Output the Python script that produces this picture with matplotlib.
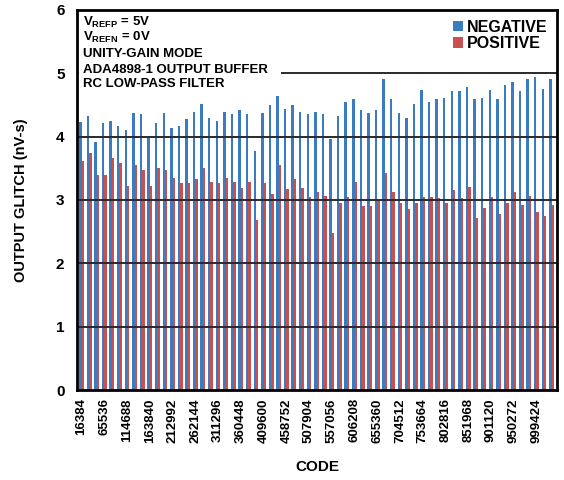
import matplotlib
matplotlib.use("Agg")
import matplotlib.pyplot as plt
import numpy as np
from matplotlib.patches import Rectangle

plt.rcParams['font.family'] = ['Liberation Sans', 'DejaVu Sans']
plt.rcParams['font.weight'] = 'bold'
plt.rcParams['mathtext.fontset'] = 'custom'
plt.rcParams['mathtext.rm'] = 'Liberation Sans:bold'
plt.rcParams['mathtext.bf'] = 'Liberation Sans:bold'
plt.rcParams['mathtext.it'] = 'Liberation Sans:bold'
plt.rcParams['mathtext.default'] = 'bf'

codes = [16384 * k for k in range(1, 64)]

negative = [4.23, 4.33, 3.92, 4.21, 4.25, 4.17, 4.10, 4.37, 4.35, 4.00,
            4.21, 4.37, 4.13, 4.17, 4.28, 4.39, 4.52, 4.30, 4.25, 4.39,
            4.35, 4.42, 4.35, 3.77, 4.38, 4.50, 4.64, 4.44, 4.50, 4.39,
            4.35, 4.39, 4.35, 3.97, 4.32, 4.54, 4.59, 4.42, 4.37, 4.42,
            4.91, 4.59, 4.37, 4.30, 4.51, 4.74, 4.54, 4.59, 4.61, 4.72,
            4.72, 4.79, 4.59, 4.61, 4.74, 4.59, 4.81, 4.86, 4.72, 4.91,
            4.94, 4.76, 4.91]

positive = [3.62, 3.74, 3.39, 3.39, 3.66, 3.58, 3.22, 3.55, 3.47, 3.22,
            3.51, 3.47, 3.34, 3.27, 3.27, 3.33, 3.51, 3.29, 3.27, 3.34,
            3.29, 3.19, 3.29, 2.68, 3.27, 3.10, 3.55, 3.17, 3.33, 3.19,
            3.05, 3.12, 3.07, 2.48, 2.96, 3.05, 3.29, 2.91, 2.91, 2.99,
            3.42, 3.12, 2.96, 2.86, 2.96, 3.05, 3.05, 3.03, 2.96, 3.15,
            3.03, 3.20, 2.71, 2.88, 3.05, 2.78, 2.96, 3.12, 2.92, 3.07,
            2.81, 2.74, 2.92]

tick_labels = ["16384", "65536", "114688", "163840", "212992", "262144",
               "311296", "360448", "409600", "458752", "507904", "557056",
               "606208", "655360", "704512", "753664", "802816", "851968",
               "901120", "950272", "999424"]

y_ticks = [0, 1, 2, 3, 4, 5, 6]

BLUE = '#3b7cc0'
RED = '#c9504e'

fig = plt.figure(figsize=(5.64, 4.8), dpi=100)
ax = fig.add_axes([0.1365, 0.1875, 0.851, 0.7917])

x = np.arange(len(codes))
w = 0.32
ax.bar(x - 0.16, negative, width=w, color=BLUE, zorder=2, label='NEGATIVE')
ax.bar(x + 0.16, positive, width=w, color=RED, zorder=2, label='POSITIVE')

ax.set_xlim(-0.6, len(codes) - 0.3)
ax.set_ylim(0, 6)
ax.set_yticks(y_ticks)
ax.set_yticklabels([str(t) for t in y_ticks], fontsize=11, fontweight='bold')
label_pos = [codes.index(int(t)) for t in tick_labels]
ax.set_xticks(label_pos)
ax.set_xticklabels(tick_labels, rotation=90, fontsize=9.5, fontweight='bold')
ax.tick_params(axis='both', length=0)
ax.tick_params(axis='x', pad=6)
ax.tick_params(axis='y', pad=9)

for yv in y_ticks[1:-1]:
    ax.axhline(yv, color='#2a2a2a', lw=1.4, zorder=3)

for s in ax.spines.values():
    s.set_linewidth(2.0)
    s.set_color('black')
    s.set_zorder(5)

ax.set_xlabel('CODE', fontsize=11, fontweight='bold', labelpad=12)
ax.set_ylabel('OUTPUT GLITCH (nV-s)', fontsize=10.5, fontweight='bold', labelpad=20)

# annotation box with white background
ax.add_patch(Rectangle((0.005, 0.78), 0.42, 0.215, transform=ax.transAxes,
                       facecolor='white', edgecolor='none', zorder=4))
lines = [r'$V_{REFP}$ = 5V', r'$V_{REFN}$ = 0V', 'UNITY-GAIN MODE',
         'ADA4898-1 OUTPUT BUFFER', 'RC LOW-PASS FILTER']
ys = [0.966, 0.928, 0.884, 0.843, 0.805]
for t, yy in zip(lines, ys):
    ax.text(0.013, yy, t, transform=ax.transAxes, fontsize=9.5,
            fontweight='bold', va='center', ha='left', zorder=6)

leg = ax.legend(loc='upper right', bbox_to_anchor=(1.0, 1.0), frameon=True,
                fancybox=False, edgecolor='none', facecolor='white', framealpha=1,
                prop={'weight': 'bold', 'size': 11.5}, handlelength=0.6,
                handleheight=0.6, handletextpad=0.25, labelspacing=0.1,
                borderpad=0.3, borderaxespad=0.3)
leg.set_zorder(6)

fig.savefig('out.png', dpi=100)
